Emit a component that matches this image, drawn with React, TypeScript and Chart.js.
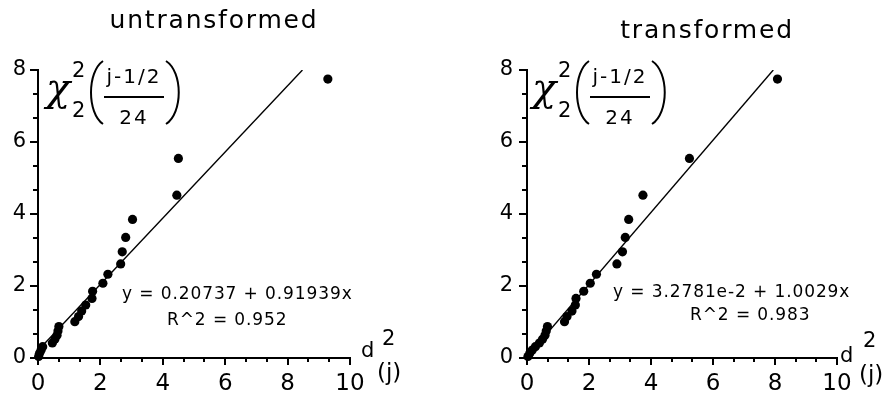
import React, { useEffect, useRef } from 'react';
import { Chart, registerables } from 'chart.js';

Chart.register(...registerables);

// ---------- data ----------
const chiSquareQuantiles = [
  0.042, 0.129, 0.22, 0.315, 0.416, 0.521, 0.632, 0.75, 0.875, 1.008, 1.151, 1.303,
  1.472, 1.655, 1.854, 2.076, 2.326, 2.613, 2.948, 3.348, 3.849, 4.523, 5.545, 7.749,
];
const untransformedD2 = [
  0.02, 0.05, 0.1, 0.15, 0.46, 0.54, 0.61, 0.64, 0.67, 1.18, 1.3, 1.4,
  1.53, 1.73, 1.75, 2.08, 2.24, 2.65, 2.7, 2.81, 3.03, 4.45, 4.5, 9.29,
];
const transformedD2 = [
  0.03, 0.09, 0.17, 0.27, 0.4, 0.5, 0.58, 0.62, 0.66, 1.21, 1.29, 1.45,
  1.56, 1.58, 1.83, 2.04, 2.24, 2.9, 3.08, 3.17, 3.28, 3.74, 5.24, 8.08,
];
const untransformedFit = { intercept: 0.20737, slope: 0.91939 };
const transformedFit = { intercept: 0.032781, slope: 1.0029 };
const xTickValues = [0, 2, 4, 6, 8, 10];
const yTickValues = [0, 2, 4, 6, 8];
const minorTickStep = 2 / 3;
const titles = ['untransformed', 'transformed'];
const equationTexts = ['y = 0.20737 + 0.91939x', 'y = 3.2781e-2 + 1.0029x'];
const rSquaredTexts = ['R^2 = 0.952', 'R^2 = 0.983'];

const X_MAX = xTickValues[xTickValues.length - 1];
const Y_MAX = yTickValues[yTickValues.length - 1];
const FONT = '"DejaVu Sans", sans-serif';

type Layout = {
  canvasLeft: number;
  canvasWidth: number;
  padLeft: number;
  padRight: number;
  title: [number, number];
  eq1: [number, number];
  eq2: [number, number];
  chiX: number;
  d: [number, number];
  dSup: [number, number];
  dSub: [number, number];
  yTickPad: number;
};

const layouts: Layout[] = [
  {
    canvasLeft: 0, canvasWidth: 443, padLeft: 0, padRight: 93,
    title: [214, 28], eq1: [122, 299], eq2: [167, 325], chiX: 47,
    d: [361, 357], dSup: [382, 345], dSub: [377, 380], yTickPad: 12,
  },
  {
    canvasLeft: 443, canvasWidth: 444, padLeft: 46, padRight: 50,
    title: [264, 38], eq1: [170, 297], eq2: [247, 320], chiX: 90,
    d: [397, 362], dSup: [420, 347], dSub: [416, 382], yTickPad: 14,
  },
];

function text(ctx: CanvasRenderingContext2D, s: string, x: number, y: number, font: string,
  align: CanvasTextAlign = 'left', spacing = 0) {
  ctx.save();
  ctx.font = font;
  ctx.fillStyle = '#000';
  ctx.textAlign = align;
  ctx.textBaseline = 'alphabetic';
  (ctx as any).letterSpacing = spacing + 'px';
  ctx.fillText(s, x, y);
  ctx.restore();
}

function Panel({ index, d2, fit }: { index: number; d2: number[]; fit: { intercept: number; slope: number } }) {
  const ref = useRef<HTMLCanvasElement | null>(null);
  const L = layouts[index];

  useEffect(() => {
    if (!ref.current) return;
    const points = d2.map((x, i) => ({ x, y: chiSquareQuantiles[i] }));
    const xEnd = (Y_MAX - fit.intercept) / fit.slope;
    const line = [
      { x: 0, y: fit.intercept },
      { x: xEnd, y: Y_MAX },
    ];

    const decor = {
      id: 'decor' + index,
      afterDraw(chart: any) {
        const ctx: CanvasRenderingContext2D = chart.ctx;
        const xs = chart.scales.x;
        const ys = chart.scales.y;
        ctx.save();
        ctx.fillStyle = '#000';
        const x0 = Math.round(xs.getPixelForValue(0));
        const x1 = Math.round(xs.getPixelForValue(X_MAX));
        const y0 = Math.round(ys.getPixelForValue(0));
        const y1 = Math.round(ys.getPixelForValue(Y_MAX));
        // axis lines (2px)
        ctx.fillRect(x0 - 1, y0 - 1, x1 - x0 + 2, 2);
        ctx.fillRect(x0 - 1, y1 - 1, 2, y0 - y1 + 2);
        // x tick marks
        for (let i = 0; i * minorTickStep <= X_MAX + 1e-9; i++) {
          const px = Math.round(xs.getPixelForValue(i * minorTickStep));
          const len = i % 3 === 0 ? 7 : 4;
          ctx.fillRect(px - 1, y0, 2, len);
        }
        // y tick marks
        for (let i = 0; i * minorTickStep <= Y_MAX + 1e-9; i++) {
          const py = Math.round(ys.getPixelForValue(i * minorTickStep));
          const len = i % 3 === 0 ? 7 : 4;
          ctx.fillRect(x0 - 1 - len, py - 1, len, 2);
        }
        ctx.restore();

        // title
        text(ctx, titles[index], L.title[0], L.title[1], `25px ${FONT}`, 'center', 1.8);
        // regression equation
        text(ctx, equationTexts[index], L.eq1[0], L.eq1[1], `17px ${FONT}`, 'left', 0.9);
        text(ctx, rSquaredTexts[index], L.eq2[0], L.eq2[1], `17px ${FONT}`, 'left', 0.9);

        // y axis label: chi^2_2((j-1/2)/24)
        const c = L.chiX;
        text(ctx, 'χ', c - 1, 101, `italic 40px "DejaVu Serif", serif`);
        text(ctx, '2', c + 25, 77, `21px ${FONT}`);
        text(ctx, '2', c + 25, 117, `21px ${FONT}`);
        ctx.save();
        ctx.strokeStyle = '#000';
        ctx.lineWidth = 2;
        ctx.beginPath();
        ctx.moveTo(c + 56, 61);
        ctx.bezierCurveTo(c + 40, 72, c + 40, 113, c + 56, 124);
        ctx.stroke();
        ctx.beginPath();
        ctx.moveTo(c + 119, 61);
        ctx.bezierCurveTo(c + 136, 72, c + 136, 113, c + 119, 124);
        ctx.stroke();
        ctx.restore();
        ctx.fillStyle = '#000';
        ctx.fillRect(c + 57, 96, 60, 2);
        text(ctx, 'j-1/2', c + 87, 83, `20px ${FONT}`, 'center', 2);
        text(ctx, '24', c + 87, 124, `20px ${FONT}`, 'center', 2);

        // x axis label: d^2_(j)
        text(ctx, 'd', L.d[0], L.d[1], `21px ${FONT}`);
        text(ctx, '2', L.dSup[0], L.dSup[1], `21px ${FONT}`);
        text(ctx, '(j)', L.dSub[0], L.dSub[1], `23px ${FONT}`);
      },
    };

    const chart = new Chart(ref.current, {
      type: 'scatter',
      data: {
        datasets: [
          {
            data: points,
            pointRadius: 4.6,
            pointBorderWidth: 0,
            pointBackgroundColor: '#000',
            pointBorderColor: '#000',
            showLine: false,
            clip: false as any,
          },
          {
            data: line,
            showLine: true,
            pointRadius: 0,
            borderColor: '#000',
            borderWidth: 1.4,
            fill: false,
          },
        ],
      },
      options: {
        animation: false,
        responsive: false,
        maintainAspectRatio: false,
        events: [],
        layout: { padding: { left: L.padLeft, right: L.padRight, top: 70, bottom: 0 } },
        plugins: { legend: { display: false }, tooltip: { enabled: false }, title: { display: false } },
        scales: {
          x: {
            type: 'linear',
            min: 0,
            max: X_MAX,
            grid: { display: false, drawTicks: false },
            border: { display: false },
            ticks: { color: '#000', font: { family: FONT, size: 23 }, padding: 12, maxRotation: 0 },
            afterBuildTicks: (s: any) => { s.ticks = xTickValues.map((v) => ({ value: v })); },
            afterFit: (s: any) => { s.height = 40; },
          },
          y: {
            type: 'linear',
            min: 0,
            max: Y_MAX,
            grid: { display: false, drawTicks: false },
            border: { display: false },
            ticks: { color: '#000', font: { family: FONT, size: 21 }, padding: L.yTickPad },
            afterBuildTicks: (s: any) => { s.ticks = yTickValues.map((v) => ({ value: v })); },
            afterFit: (s: any) => { s.width = 38; },
          },
        },
      },
      plugins: [decor],
    } as any);
    return () => chart.destroy();
  }, []);

  return (
    <canvas
      ref={ref}
      width={L.canvasWidth}
      height={398}
      style={{ position: 'absolute', left: L.canvasLeft, top: 0, width: L.canvasWidth, height: 398 }}
    />
  );
}

export default function App() {
  return (
    <div style={{ position: 'fixed', left: 0, top: 0, width: 887, height: 398, background: '#fff' }}>
      <Panel index={0} d2={untransformedD2} fit={untransformedFit} />
      <Panel index={1} d2={transformedD2} fit={transformedFit} />
    </div>
  );
}
